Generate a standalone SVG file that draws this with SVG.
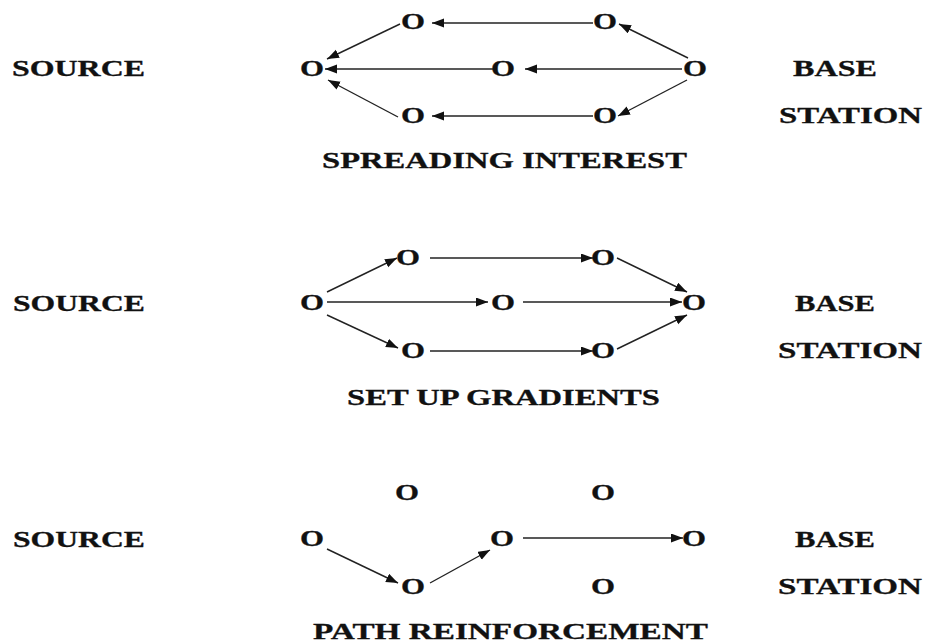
<svg xmlns="http://www.w3.org/2000/svg" width="925" height="643" viewBox="0 0 925 643">
<style>
text{font-family:"Liberation Serif","Times New Roman",serif;font-weight:bold;font-size:23px;fill:#111;stroke:#111;stroke-width:0.3}
.n{text-anchor:middle}
.c line{stroke:#222;stroke-width:1.4;marker-end:url(#ah)}
</style>
<defs>
<marker id="ah" markerUnits="userSpaceOnUse" markerWidth="14" markerHeight="10" refX="12" refY="4.5" orient="auto">
<path d="M0,0 L12,4.5 L0,9 z" fill="#111"/>
</marker>
</defs>
<rect width="925" height="643" fill="#fff"/>

<!-- Panel 1 -->
<g id="p1-labels">
<text x="12" y="76" textLength="133" lengthAdjust="spacingAndGlyphs">SOURCE</text>
<text x="793" y="76" textLength="84" lengthAdjust="spacingAndGlyphs">BASE</text>
<text x="779" y="123" textLength="143" lengthAdjust="spacingAndGlyphs">STATION</text>
<text x="322" y="168" textLength="365" lengthAdjust="spacingAndGlyphs">SPREADING INTEREST</text>
</g>
<g id="p1-n1"><text class="n" x="312" y="76" textLength="24" lengthAdjust="spacingAndGlyphs">O</text></g>
<g id="p1-n2"><text class="n" x="413" y="29" textLength="24" lengthAdjust="spacingAndGlyphs">O</text></g>
<g id="p1-n3"><text class="n" x="605" y="29" textLength="24" lengthAdjust="spacingAndGlyphs">O</text></g>
<g id="p1-n4"><text class="n" x="503" y="76" textLength="24" lengthAdjust="spacingAndGlyphs">O</text></g>
<g id="p1-n5"><text class="n" x="695" y="76" textLength="24" lengthAdjust="spacingAndGlyphs">O</text></g>
<g id="p1-n6"><text class="n" x="413" y="123" textLength="24" lengthAdjust="spacingAndGlyphs">O</text></g>
<g id="p1-n7"><text class="n" x="605" y="123" textLength="24" lengthAdjust="spacingAndGlyphs">O</text></g>
<g id="p1-connectors" class="c">
<line x1="688" y1="58" x2="619" y2="24"/>
<line x1="593" y1="23" x2="432" y2="23"/>
<line x1="400" y1="24" x2="327" y2="59"/>
<line x1="682" y1="69" x2="525" y2="69"/>
<line x1="493" y1="69" x2="325" y2="69"/>
<line x1="687" y1="80" x2="618" y2="116"/>
<line x1="593" y1="116" x2="432" y2="116"/>
<line x1="398" y1="117" x2="328" y2="80"/>
</g>

<!-- Panel 2 -->
<g id="p2-labels">
<text x="13" y="311" textLength="132" lengthAdjust="spacingAndGlyphs">SOURCE</text>
<text x="795" y="311" textLength="80" lengthAdjust="spacingAndGlyphs">BASE</text>
<text x="778" y="358" textLength="144" lengthAdjust="spacingAndGlyphs">STATION</text>
<text x="347" y="405" textLength="313" lengthAdjust="spacingAndGlyphs">SET UP GRADIENTS</text>
</g>
<g id="p2-n1"><text class="n" x="312" y="310" textLength="24" lengthAdjust="spacingAndGlyphs">O</text></g>
<g id="p2-n2"><text class="n" x="408" y="265" textLength="24" lengthAdjust="spacingAndGlyphs">O</text></g>
<g id="p2-n3"><text class="n" x="603" y="265" textLength="24" lengthAdjust="spacingAndGlyphs">O</text></g>
<g id="p2-n4"><text class="n" x="503" y="310" textLength="24" lengthAdjust="spacingAndGlyphs">O</text></g>
<g id="p2-n5"><text class="n" x="694" y="310" textLength="24" lengthAdjust="spacingAndGlyphs">O</text></g>
<g id="p2-n6"><text class="n" x="413" y="358" textLength="24" lengthAdjust="spacingAndGlyphs">O</text></g>
<g id="p2-n7"><text class="n" x="603" y="358" textLength="24" lengthAdjust="spacingAndGlyphs">O</text></g>
<g id="p2-connectors" class="c">
<line x1="327" y1="292" x2="397" y2="258"/>
<line x1="430" y1="258" x2="593" y2="258"/>
<line x1="617" y1="258" x2="687" y2="292"/>
<line x1="327" y1="302" x2="488" y2="302"/>
<line x1="523" y1="302" x2="682" y2="302"/>
<line x1="327" y1="315" x2="398" y2="348"/>
<line x1="430" y1="351" x2="593" y2="351"/>
<line x1="617" y1="349" x2="687" y2="315"/>
</g>

<!-- Panel 3 -->
<g id="p3-labels">
<text x="13" y="547" textLength="132" lengthAdjust="spacingAndGlyphs">SOURCE</text>
<text x="795" y="547" textLength="80" lengthAdjust="spacingAndGlyphs">BASE</text>
<text x="778" y="594" textLength="144" lengthAdjust="spacingAndGlyphs">STATION</text>
<text x="313" y="639" textLength="395" lengthAdjust="spacingAndGlyphs">PATH REINFORCEMENT</text>
</g>
<g id="p3-n1"><text class="n" x="312" y="546" textLength="24" lengthAdjust="spacingAndGlyphs">O</text></g>
<g id="p3-n2"><text class="n" x="407" y="500" textLength="24" lengthAdjust="spacingAndGlyphs">O</text></g>
<g id="p3-n3"><text class="n" x="603" y="500" textLength="24" lengthAdjust="spacingAndGlyphs">O</text></g>
<g id="p3-n4"><text class="n" x="502" y="546" textLength="24" lengthAdjust="spacingAndGlyphs">O</text></g>
<g id="p3-n5"><text class="n" x="694" y="546" textLength="24" lengthAdjust="spacingAndGlyphs">O</text></g>
<g id="p3-n6"><text class="n" x="413" y="594" textLength="24" lengthAdjust="spacingAndGlyphs">O</text></g>
<g id="p3-n7"><text class="n" x="603" y="594" textLength="24" lengthAdjust="spacingAndGlyphs">O</text></g>
<g id="p3-connectors" class="c">
<line x1="327" y1="549" x2="398" y2="583"/>
<line x1="430" y1="583" x2="490" y2="550"/>
<line x1="523" y1="538" x2="683" y2="538"/>
</g>
</svg>
